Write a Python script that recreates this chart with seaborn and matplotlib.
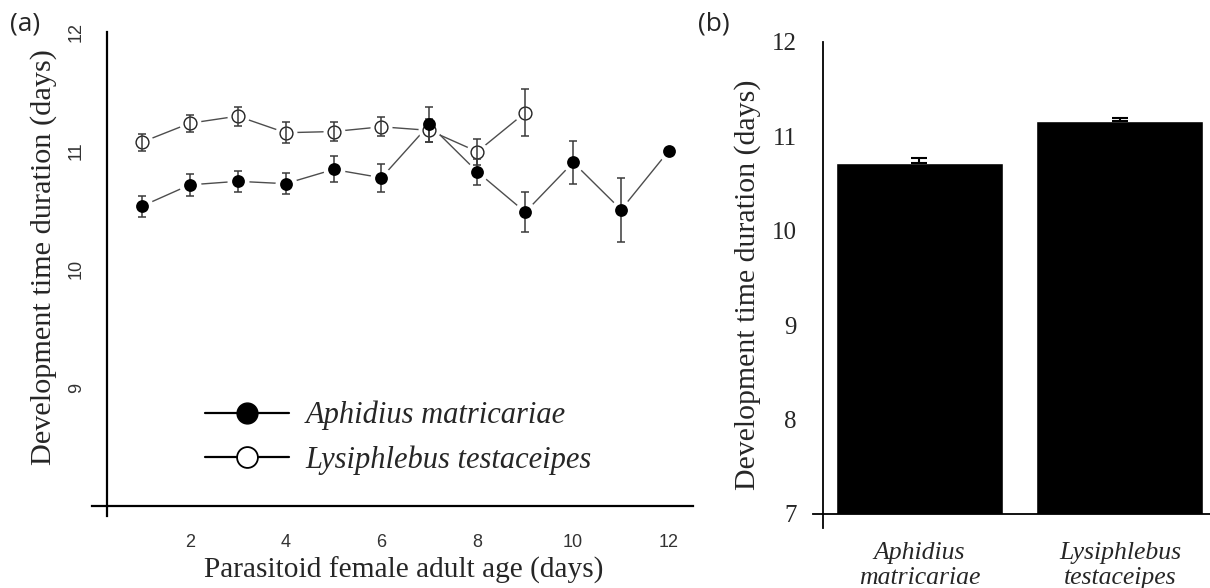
"""
Development time of two parasitoids: (a) by female adult age, (b) overall mean.
"""

import numpy as np
import pandas as pd
import matplotlib
matplotlib.use("Agg")
import matplotlib.pyplot as plt
from matplotlib.lines import Line2D
import seaborn as sns

# ─── Data ─────────────────────────────────────────────────────────────────────

SPECIES = ["Aphidius matricariae", "Lysiphlebus testaceipes"]

AGE_AM = [1, 2, 3, 4, 5, 6, 7, 8, 9, 10, 11, 12]
MEAN_AM = [10.53, 10.71, 10.74, 10.72, 10.84, 10.77, 11.22, 10.82, 10.48, 10.90, 10.50, 11.00]
SE_AM = [0.09, 0.09, 0.09, 0.09, 0.11, 0.12, 0.15, 0.11, 0.17, 0.18, 0.27, 0.0]

AGE_LT = [1, 2, 3, 4, 5, 6, 7, 8, 9]
MEAN_LT = [11.07, 11.23, 11.29, 11.15, 11.16, 11.20, 11.17, 10.99, 11.32]
SE_LT = [0.07, 0.07, 0.08, 0.09, 0.08, 0.08, 0.10, 0.11, 0.20]

X_TICKS_A = [2, 4, 6, 8, 10, 12]
Y_TICKS_A = [9, 10, 11, 12]

BAR_LABELS = ["Aphidius\nmatricariae", "Lysiphlebus\ntestaceipes"]
BAR_MEANS = [10.72, 11.16]
BAR_SE = [0.05, 0.04]
Y_TICKS_B = [7, 8, 9, 10, 11, 12]

# ─── Style ────────────────────────────────────────────────────────────────────

sns.set_theme(style="white")
plt.rcParams["font.family"] = ["Liberation Serif", "DejaVu Serif"]
SERIF = "Liberation Serif"
SANS = "Liberation Sans"
LINE_C = "#4d4d4d"

W, H = 1210, 588
fig = plt.figure(figsize=(W / 100, H / 100), dpi=100)
fig.patch.set_facecolor("white")


def px_box(left, top, right, bottom):
    return [left / W, 1 - bottom / H, (right - left) / W, (bottom - top) / H]


# ─── Panel (a) ────────────────────────────────────────────────────────────────

ax1 = fig.add_axes(px_box(92, 32, 693, 506))
df = pd.concat([
    pd.DataFrame({"age": AGE_AM, "mean": MEAN_AM, "se": SE_AM, "species": SPECIES[0]}),
    pd.DataFrame({"age": AGE_LT, "mean": MEAN_LT, "se": SE_LT, "species": SPECIES[1]}),
])

for sp in SPECIES:
    d = df[df["species"] == sp]
    sns.lineplot(data=d, x="age", y="mean", color=LINE_C, lw=1.0,
                 estimator=None, ax=ax1, zorder=1)
    # white halo -> gap between segments and points (R type="b")
    sns.scatterplot(data=d, x="age", y="mean", color="white", s=250,
                    linewidth=0, ax=ax1, zorder=2)

d_lt = df[df["species"] == SPECIES[1]]
d_am = df[df["species"] == SPECIES[0]]
sns.scatterplot(data=d_lt, x="age", y="mean", facecolor="white", edgecolor="#222222",
                s=85, linewidth=1.0, ax=ax1, zorder=2.5)
ax1.errorbar(df["age"], df["mean"], yerr=df["se"], fmt="none", ecolor="#3a3a3a",
             elinewidth=1.1, capsize=3.2, capthick=1.1, zorder=3)
sns.scatterplot(data=d_am, x="age", y="mean", color="black", s=85,
                linewidth=0, ax=ax1, zorder=4)

ax1.set_xlim(-0.04, 12.5)
ax1.set_ylim(8, 12)
ax1.set_xticks(X_TICKS_A)
ax1.set_yticks(Y_TICKS_A)
ax1.set_xlabel("")
ax1.set_ylabel("")
for s in ["top", "right"]:
    ax1.spines[s].set_visible(False)
ax1.spines["left"].set_position(("data", 0.27))
ax1.spines["left"].set_bounds(7.915, 12)
for s in ["left", "bottom"]:
    ax1.spines[s].set_linewidth(1.6)
    ax1.spines[s].set_color("black")
ax1.tick_params(axis="both", direction="out", length=7, width=1.0, color="#333333",
                labelcolor="#333333", labelsize=13)
ax1.tick_params(axis="y", pad=9, labelrotation=90)
ax1.tick_params(axis="x", pad=13)
for lab in ax1.get_xticklabels() + ax1.get_yticklabels():
    lab.set_family(SANS)
for lab in ax1.get_yticklabels():
    lab.set_va("center")

handles = [
    Line2D([], [], color="black", lw=1.6, marker="o", ms=15, mfc="black", mec="black"),
    Line2D([], [], color="black", lw=1.6, marker="o", ms=15, mfc="white", mec="black", mew=1.3),
]
ax1.legend(handles, SPECIES, loc="upper left", bbox_to_anchor=(0.188, 0.222),
           frameon=False, borderpad=0, borderaxespad=0, handlelength=2.75,
           handletextpad=0.55, labelspacing=0.5,
           prop={"family": SERIF, "style": "italic", "size": 22})

fig.text(44 / W, 1 - 257 / H, "Development time duration (days)", rotation=90,
         ha="center", va="center", fontsize=21.8, family=SERIF)
fig.text(404 / W, 1 - 570 / H, "Parasitoid female adult age (days)",
         ha="center", va="center", fontsize=21.2, family=SERIF)

# ─── Panel (b) ────────────────────────────────────────────────────────────────

ax2 = fig.add_axes(px_box(813, 42, 1210, 514))
sns.barplot(x=BAR_LABELS, y=BAR_MEANS, color="black", saturation=1, width=0.833,
            errorbar=None, ax=ax2, zorder=2)
ax2.errorbar(np.arange(len(BAR_MEANS)), BAR_MEANS,
             yerr=[np.zeros(len(BAR_SE)), BAR_SE], fmt="none", ecolor="black",
             elinewidth=1.5, capsize=5.5, capthick=1.5, zorder=3)
ax2.set_xlim(-0.531, 1.449)
ax2.set_ylim(7, 12)
ax2.set_yticks(Y_TICKS_B)
ax2.set_xlabel("")
ax2.set_ylabel("")
for s in ["top", "right"]:
    ax2.spines[s].set_visible(False)
ax2.spines["left"].set_position(("data", -0.481))
ax2.spines["left"].set_bounds(6.85, 12)
for s in ["left", "bottom"]:
    ax2.spines[s].set_linewidth(1.3)
    ax2.spines[s].set_color("black")
ax2.tick_params(axis="y", direction="out", length=7, width=1.0, color="black",
                labelsize=18, pad=12)
ax2.tick_params(axis="x", length=0, pad=20, labelsize=18.5)
for lab in ax2.get_yticklabels():
    lab.set_family(SERIF)
for lab in ax2.get_xticklabels():
    lab.set_family(SERIF)
    lab.set_style("italic")
    lab.set_linespacing(1.2)

fig.text(748 / W, 1 - 285 / H, "Development time duration (days)", rotation=90,
         ha="center", va="center", fontsize=21.5, family=SERIF)

# panel letters
fig.text(25 / W, 1 - 24 / H, "(a)", ha="center", va="center", fontsize=19,
         family="Open Sans")
fig.text(714 / W, 1 - 24 / H, "(b)", ha="center", va="center", fontsize=19,
         family="Open Sans")

fig.savefig("out.png", dpi=100)
plt.close(fig)
